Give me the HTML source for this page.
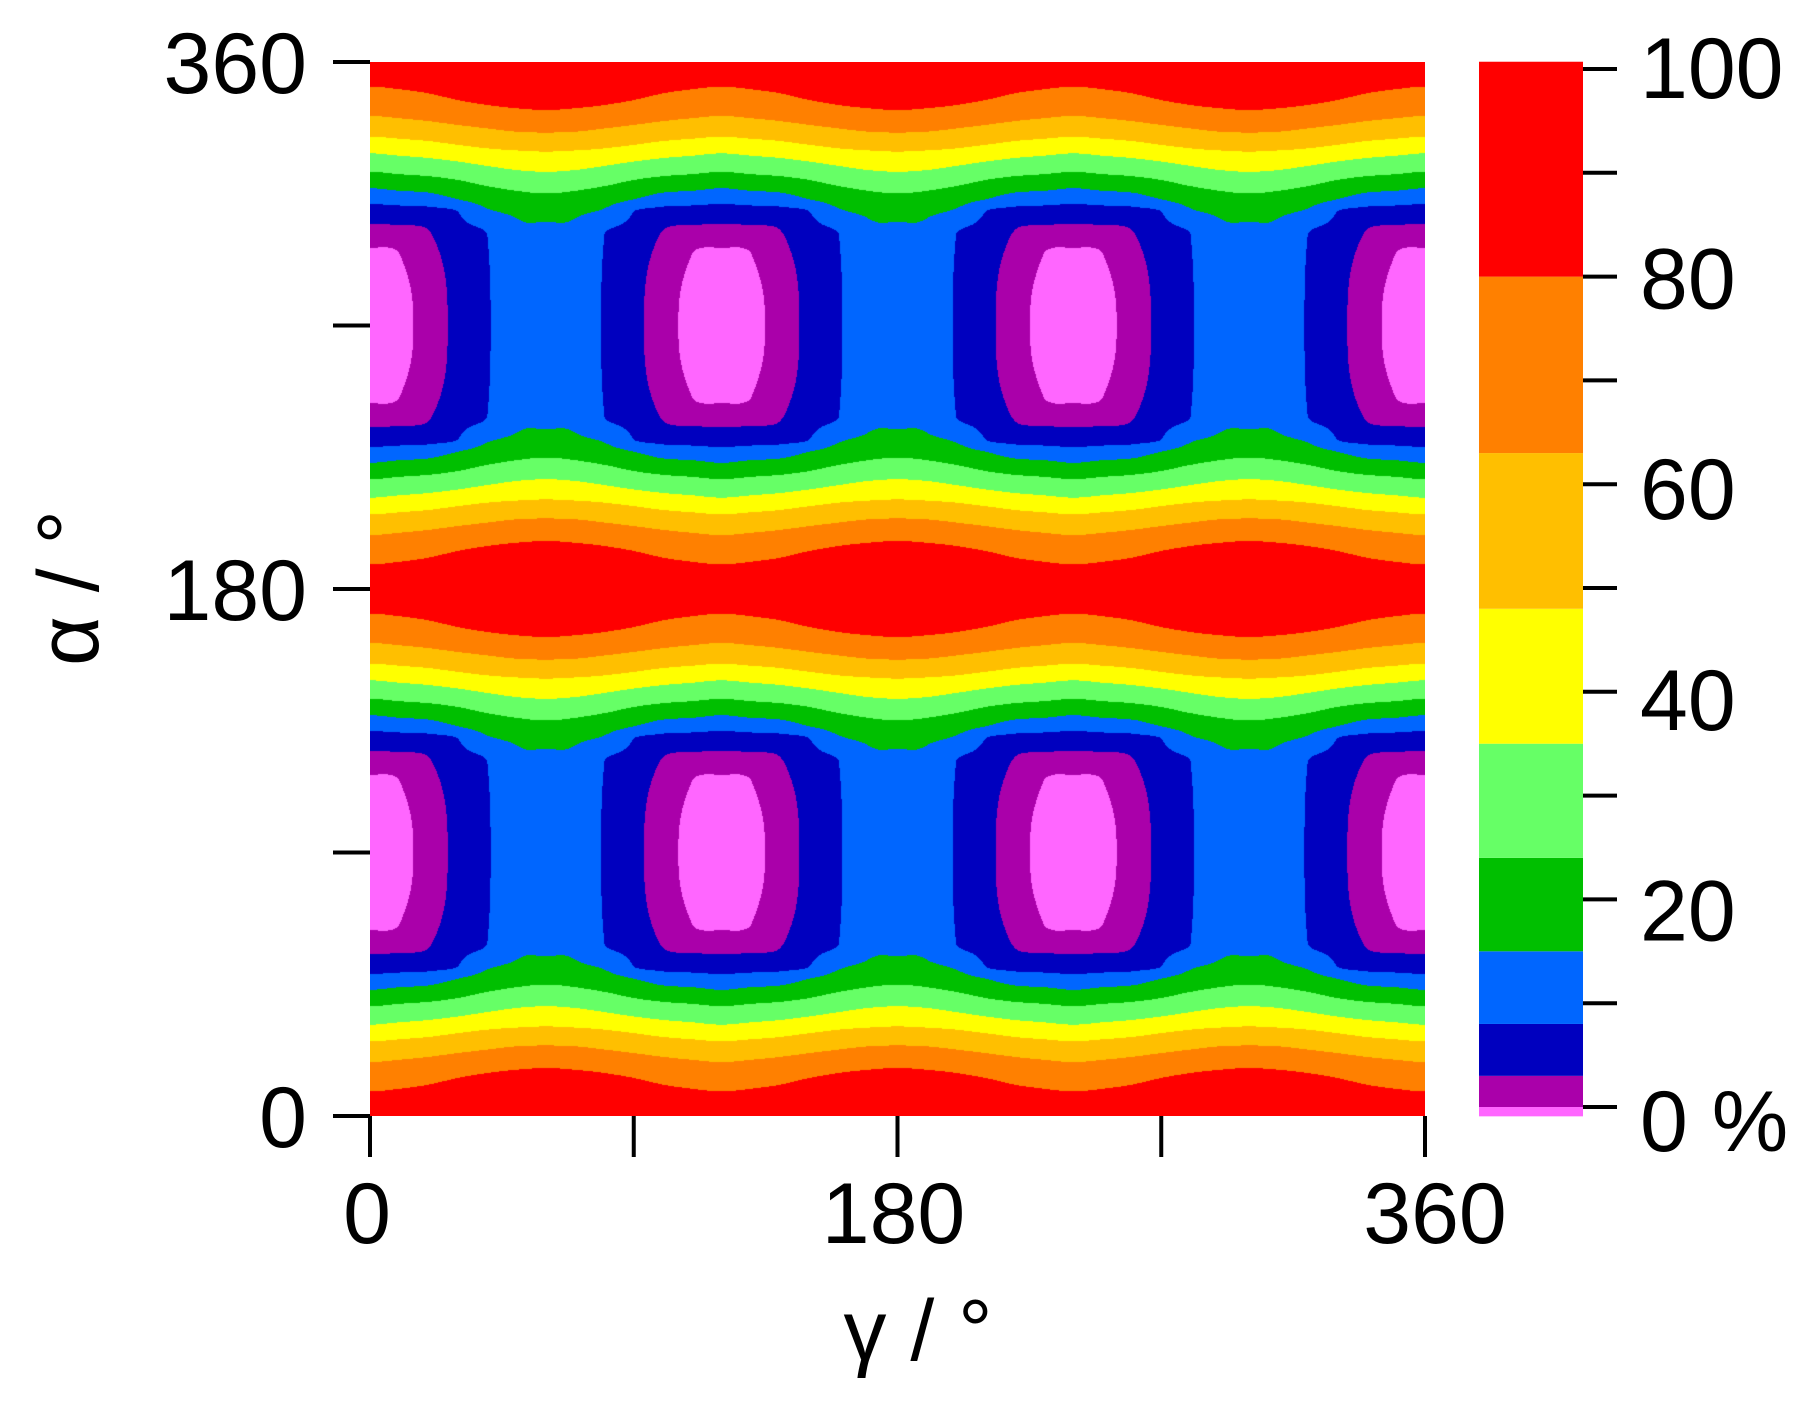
<!DOCTYPE html>
<html><head><meta charset="utf-8"><style>
html,body{margin:0;padding:0;background:#fff;}
#wrap{position:relative;width:1807px;height:1404px;overflow:hidden;background:#fff;}
#field{position:absolute;left:370px;top:62px;}
svg{position:absolute;left:0;top:0;}
text{font-family:"Liberation Sans",Arial,sans-serif;fill:#000;}
</style></head><body>
<div id="wrap">
<canvas id="field" width="1055" height="1054"></canvas>
<svg id="ov" width="1807" height="1404"></svg>
</div>
<script>
// ---- data ----
// gamma sample columns (deg), field repeats every 120 deg and mirrors about 60
const gammaCols = [0, 10, 20, 30, 40, 50, 60];
// contour levels (%) crossed going from alpha=0/180 (max) toward alpha=90 (min)
const crossLevels = [80, 63, 48, 35, 24, 15, 8, 3, 0];
// depth (deg from nearest alpha=0/180) where each level is crossed, per column
const crossG0  = [8.4, 18.4, 25.5, 31.2, 37.5, 43.1, 48.5, 55.3, 63.6];
const crossG10 = [9.3, 19.2, 26.2, 32.0, 38.3, 44.0, 49.0, 55.7, 65.3];
const crossG20 = [10.7, 20.2, 27.0, 32.8, 39.0, 44.6, 49.4, 57.4, null];
const crossG30 = [13.0, 21.5, 28.3, 34.0, 40.3, 46.9, 51.1, null, null];
const crossG40 = [14.7, 22.7, 29.5, 35.5, 42.4, 50.0, 59.0, null, null];
const crossG50 = [15.8, 23.8, 30.2, 36.9, 44.0, 53.4, null, null, null];
const crossG60 = [16.4, 24.1, 30.6, 37.5, 44.9, 54.5, null, null, null];
// value at alpha = 90 (deepest point) per column
const minValues = [-0.6, -0.35, 0.8, 4.3, 7.6, 11, 12];
const peakValue = 100;
// colour scale
const bandLevels = [-0.9, 0, 3, 8, 15, 24, 35, 48, 63, 80, 100.7];
const bandColors = ["#FF66FF","#AA00AA","#0000BF","#0066FF","#00BF00","#66FF66","#FFFF00","#FFBF00","#FF8000","#FF0000"];
const cbTicks = [0,10,20,30,40,50,60,70,80,90,100];
const cbLabels = ["0 %","20","40","60","80","100"];
const cbLabelVals = [0,20,40,60,80,100];
const xTicks = [0,90,180,270,360];
const xLabels = [0,180,360];
const yTicks = [0,90,180,270,360];
const yLabels = [0,180,360];

// ---- scales ----
const PX0=370, PX1=1425, PY0=62, PY1=1116;
const xScale = g => PX0 + g/360*(PX1-PX0);
const yScale = a => PY1 - a/360*(PY1-PY0);
const CB_X0=1479, CB_X1=1583;
const cbScale = v => 1107 - v*10.38;

const crossCols=[crossG0,crossG10,crossG20,crossG30,crossG40,crossG50,crossG60];

// monotone cubic (Fritsch-Carlson) profile along depth
function buildProfile(c){
  const xs=[0], ys=[peakValue];
  crossCols[c].forEach((dd,k)=>{ if(dd!==null){xs.push(dd);ys.push(crossLevels[k]);} });
  xs.push(90); ys.push(minValues[c]);
  const n=xs.length, dl=[], m=new Array(n);
  for(let i=0;i<n-1;i++) dl.push((ys[i+1]-ys[i])/(xs[i+1]-xs[i]));
  m[0]=0; m[n-1]=0;
  for(let i=1;i<n-1;i++){ m[i]=(dl[i-1]*dl[i]<=0)?0:(dl[i-1]+dl[i])/2; }
  for(let i=0;i<n-1;i++){
    if(dl[i]===0){m[i]=0;m[i+1]=0;continue;}
    const a=m[i]/dl[i], b=m[i+1]/dl[i], s=a*a+b*b;
    if(s>9){const t=3/Math.sqrt(s); m[i]=t*a*dl[i]; m[i+1]=t*b*dl[i];}
  }
  return function(d){
    let i=0; while(i<n-2 && d>xs[i+1]) i++;
    const h=xs[i+1]-xs[i], t=(d-xs[i])/h;
    const h00=2*t*t*t-3*t*t+1,h10=t*t*t-2*t*t+t,h01=-2*t*t*t+3*t*t,h11=t*t*t-t*t;
    return h00*ys[i]+h10*h*m[i]+h01*ys[i+1]+h11*h*m[i+1];
  };
}
const profiles=gammaCols.map((g,c)=>buildProfile(c));

function hex(h){return [parseInt(h.substr(1,2),16),parseInt(h.substr(3,2),16),parseInt(h.substr(5,2),16)];}
const rgb=bandColors.map(hex);
function bandOf(v){for(let i=1;i<bandLevels.length-1;i++){if(v<bandLevels[i])return i-1;}return bandColors.length-1;}

// ---- draw field ----
const cv=document.getElementById('field');
const ctx=cv.getContext('2d');
const W=cv.width,H=cv.height;
const img=ctx.createImageData(W,H);
const nC=gammaCols.length;
const step=gammaCols[1]-gammaCols[0];
function colIdx(k){ if(k<0) return -k; if(k>nC-1) return 2*(nC-1)-k; return k; }
for(let py=0;py<H;py++){
  const a=360-(py+0.5)/H*360;
  let d=((a%180)+180)%180; if(d>90)d=180-d;
  const cvals=profiles.map(p=>p(d));
  for(let px=0;px<W;px++){
    const g=(px+0.5)/W*360;
    let gm=g%120; if(gm>60)gm=120-gm;
    let i=Math.min(Math.floor(gm/step),nC-2);
    const t=(gm-gammaCols[i])/step;
    const p0=cvals[colIdx(i-1)],p1=cvals[i],p2=cvals[i+1],p3=cvals[colIdx(i+2)];
    const v=0.5*((2*p1)+(-p0+p2)*t+(2*p0-5*p1+4*p2-p3)*t*t+(-p0+3*p1-3*p2+p3)*t*t*t);
    const col=rgb[bandOf(v)];
    const o=(py*W+px)*4;
    img.data[o]=col[0];img.data[o+1]=col[1];img.data[o+2]=col[2];img.data[o+3]=255;
  }
}
ctx.putImageData(img,0,0);

// ---- overlay ----
const NS="http://www.w3.org/2000/svg";
const svg=document.getElementById('ov');
function mk(tag,attrs){const e=document.createElementNS(NS,tag);for(const k in attrs)e.setAttribute(k,attrs[k]);svg.appendChild(e);return e;}

// colorbar
for(let i=0;i<bandColors.length;i++){
  const y1=cbScale(bandLevels[i+1]), y0=cbScale(bandLevels[i]);
  const r=mk('rect',{x:CB_X0,y:y1,width:CB_X1-CB_X0,height:y0-y1,fill:bandColors[i]});
  
  
}
cbTicks.forEach(v=>{
  const l=mk('line',{x1:CB_X1,x2:1617,y1:cbScale(v),y2:cbScale(v),stroke:'#000','stroke-width':4});
  
  
});
cbLabelVals.forEach((v,i)=>{
  const t=mk('text',{x:1640,y:64+(100-v)*10.53+34,'font-size':86});
  t.textContent=cbLabels[i];
  
  
});

// y axis ticks
yTicks.forEach(v=>{
  const l=mk('line',{x1:333,x2:PX0,y1:yScale(v),y2:yScale(v),stroke:'#000','stroke-width':4});
  
  
});
yLabels.forEach(v=>{
  const t=mk('text',{x:307,y:yScale(v)+31,'font-size':86,'text-anchor':'end'});
  t.textContent=String(v);
  
  
});
// x axis ticks
xTicks.forEach(v=>{
  const l=mk('line',{x1:xScale(v),x2:xScale(v),y1:PY1,y2:1157,stroke:'#000','stroke-width':4});
  
  
});
xLabels.forEach(v=>{
  const t=mk('text',{x:xScale(v)+(v===360?10:(v===0?-3:-4)),y:1243,'font-size':86,'text-anchor':'middle'});
  t.textContent=String(v);
  
  
});
// axis titles
const xt=mk('text',{x:918,y:1360,'font-size':86,'text-anchor':'middle'});
xt.textContent='γ / °';


const yt=mk('text',{x:0,y:0,'font-size':86,'text-anchor':'middle',transform:'translate(98,588) rotate(-90)'});
yt.textContent='α / °';


</script>
</body></html>
